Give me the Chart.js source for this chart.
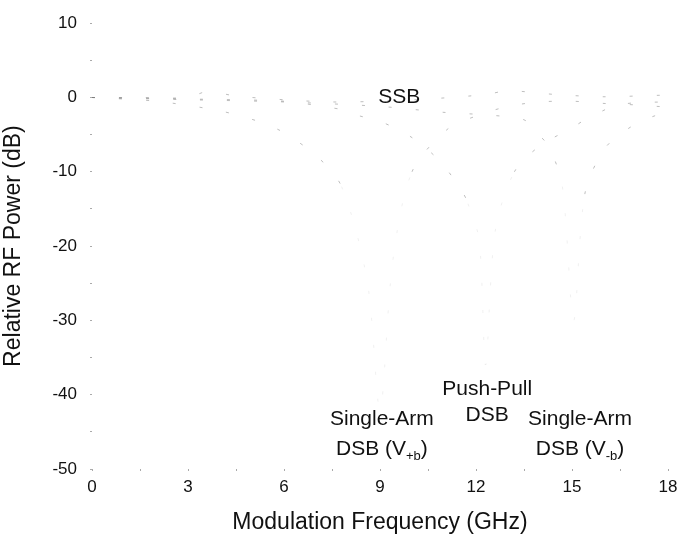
<!DOCTYPE html>
<html>
<head>
<meta charset="utf-8">
<script src="https://cdn.jsdelivr.net/npm/chart.js@4.4.1/dist/chart.umd.min.js"></script>
<style>
    html, body { margin: 0; padding: 0; background: #fff; }
    #wrap { width: 698px; height: 545px; }
</style>
</head>
<body>
<div id="wrap"><canvas id="rf-chart"></canvas></div>
<script>
// 축 범위 / 눈금
const xMin = 0, xMax = 18, xStep = 1.5;
const yMin = -50, yMax = 10, yStep = 5;

// SSB
const ssbFreq = [0, 1.5, 3, 3.6, 4.5, 6, 7.5, 9, 10.5, 12.3, 13, 14.5, 16, 17.8, 18];
const ssbPower = [0, 0, 0, 0.8, 0.2, -0.3, -0.6, -0.5, -0.2, 0.4, 0.9, 0.4, 0.1, 0.3, 0.2];

// Push-Pull DSB (null ~12.3 GHz)
const ppFreq = [0, 3, 6, 7.2, 8, 8.3, 9, 10, 10.9, 11.6, 11.75, 12.1, 12.3, 12.6, 13.2, 14, 15, 15.4, 16.1, 16.3, 17, 18];
const ppPower = [0, -0.2, -0.5, -1.2, -1.8, -2.4, -3.2, -5.4, -8.7, -12.9, -14.3, -19.2, -36, -18, -10, -6.5, -4.1, -3.0, -1.5, -1.1, -0.7, -0.6];

// Single-Arm DSB (V+b) (null ~9 GHz)
const plusFreq = [0, 2, 4, 5.2, 5.4, 5.9, 7, 7.8, 8.6, 9, 9.4, 10, 11.1, 12, 13, 14, 15, 16, 17, 18];
const plusPower = [0, -0.5, -1.8, -3.2, -3.6, -4.5, -7.8, -12, -24.7, -42, -22, -10, -4.3, -2.5, -1.2, -0.6, -0.5, -0.8, -1.0, -1.3];

// Single-Arm DSB (V-b) (null ~15 GHz)
const minusFreq = [0, 3, 6, 9, 11, 12.5, 13.5, 13.9, 14.3, 14.7, 15.05, 15.4, 16, 16.75, 17.5, 18];
const minusPower = [0, -0.3, -0.6, -1.2, -2.0, -2.4, -3.0, -4.7, -6.8, -12, -30, -13, -7, -4.2, -2.6, -2.0];

const toPoints = (xs, ys) => xs.map((x, i) => ({ x: x, y: ys[i] }));

const FONT = '"Liberation Sans", Arial, sans-serif';

// 곡선 위 글자 (데이터 좌표 기준)
const curveLabels = [
    { x: 9.6, y: 0.1, parts: [['SSB']] },
    { x: 12.35, y: -39.3, parts: [['Push-Pull']] },
    { x: 12.35, y: -42.8, parts: [['DSB']] },
    { x: 9.06, y: -43.3, parts: [['Single-Arm']] },
    { x: 9.06, y: -47.4, parts: [['DSB (V'], ['+b', 'sub'], [')']] },
    { x: 15.25, y: -43.3, parts: [['Single-Arm']] },
    { x: 15.25, y: -47.4, parts: [['DSB (V'], ['-b', 'sub'], [')']] }
];

const labelPlugin = {
    id: 'curveLabels',
    afterDatasetsDraw(chart) {
        const { ctx, scales } = chart;
        ctx.save();
        ctx.fillStyle = '#111';
        ctx.textBaseline = 'middle';
        ctx.textAlign = 'left';
        curveLabels.forEach(lab => {
            const px = scales.x.getPixelForValue(lab.x);
            const py = scales.y.getPixelForValue(lab.y);
            let total = 0;
            lab.parts.forEach(p => {
                ctx.font = (p[1] === 'sub' ? '13px ' : '21px ') + FONT;
                total += ctx.measureText(p[0]).width;
            });
            let cx = px - total / 2;
            lab.parts.forEach(p => {
                const sub = p[1] === 'sub';
                ctx.font = (sub ? '13px ' : '21px ') + FONT;
                ctx.fillText(p[0], cx, sub ? py + 7 : py);
                cx += ctx.measureText(p[0]).width;
            });
        });
        ctx.restore();
    }
};

// 깊은 구간은 거의 안 보이게
const faint = ctx => {
    const lo = Math.min(ctx.p0.parsed.y, ctx.p1.parsed.y);
    return lo < -15 ? 'rgba(130, 130, 130, 0.12)' : 'rgba(110, 110, 110, 0.45)';
};

const lineStyle = {
    borderColor: 'rgba(110, 110, 110, 0.45)',
    borderWidth: 1,
    borderDash: [3, 24],
    pointRadius: 0,
    tension: 0.3,
    fill: false,
    segment: { borderColor: faint }
};

new Chart(document.getElementById('rf-chart').getContext('2d'), {
    type: 'line',
    data: {
        datasets: [
            { label: 'SSB', data: toPoints(ssbFreq, ssbPower), ...lineStyle },
            { label: 'Push-Pull DSB', data: toPoints(ppFreq, ppPower), ...lineStyle },
            { label: 'Single-Arm DSB (V+b)', data: toPoints(plusFreq, plusPower), ...lineStyle },
            { label: 'Single-Arm DSB (V-b)', data: toPoints(minusFreq, minusPower), ...lineStyle }
        ]
    },
    options: {
        responsive: true,
        maintainAspectRatio: false,
        animation: false,
        layout: { padding: { top: 13, right: 30, bottom: 0, left: 0 } },
        plugins: {
            legend: { display: false },
            tooltip: { enabled: false }
        },
        scales: {
            x: {
                type: 'linear',
                min: xMin, max: xMax,
                border: { display: false },
                grid: { drawOnChartArea: false, drawTicks: true, tickLength: 2, color: '#aaa' },
                ticks: {
                    stepSize: xStep, autoSkip: false, maxRotation: 0, padding: 6,
                    color: '#111', font: { family: FONT, size: 17 },
                    callback: v => (v % 3 === 0 ? v : '')
                },
                title: {
                    display: true, text: 'Modulation Frequency (GHz)', color: '#111',
                    font: { family: FONT, size: 23 }, padding: { top: 4, bottom: 9 }
                },
                afterFit: s => { s.height = 76; }
            },
            y: {
                min: yMin, max: yMax,
                border: { display: false },
                grid: { drawOnChartArea: false, drawTicks: true, tickLength: 2, color: '#aaa' },
                ticks: {
                    stepSize: yStep, padding: 13,
                    color: '#111', font: { family: FONT, size: 17 },
                    callback: v => (v % 10 === 0 ? v : '')
                },
                title: {
                    display: true, text: 'Relative RF Power (dB)', color: '#111',
                    font: { family: FONT, size: 23 }, padding: { top: 0, bottom: 0 }
                },
                afterFit: s => { s.width = 92; }
            }
        }
    },
    plugins: [labelPlugin]
});
</script>
</body>
</html>
